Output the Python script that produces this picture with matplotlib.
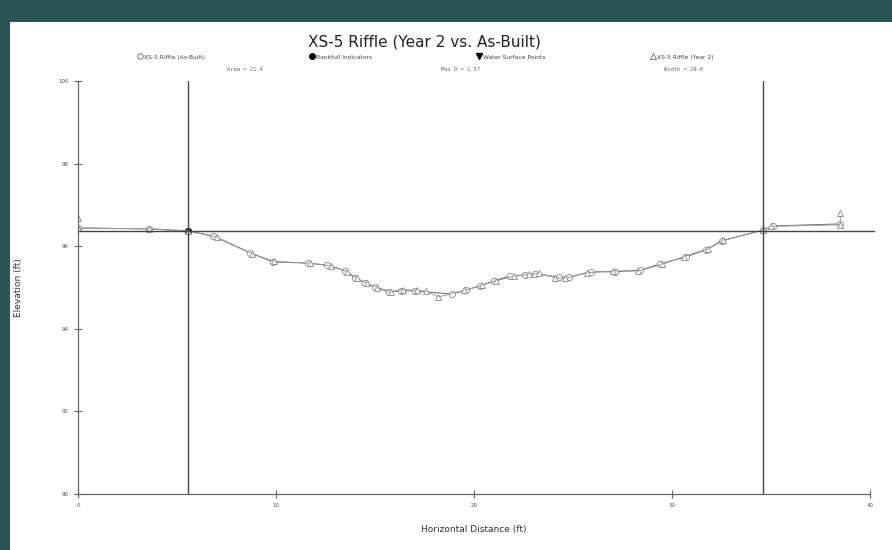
import numpy as np
import matplotlib
matplotlib.use("Agg")
import matplotlib.pyplot as plt
from matplotlib.patches import Rectangle
from matplotlib.lines import Line2D

# station (ft) and elevation (ft)
asbuilt_x = [0.0, 3.6, 5.55, 6.8, 8.7, 9.85, 11.6, 12.6, 13.5, 14.0, 14.5, 15.0, 15.7,
             16.3, 17.0, 18.9, 19.6, 20.3, 21.0, 21.8, 22.6, 23.1, 24.3, 24.8, 25.9,
             27.1, 28.4, 29.4, 30.7, 31.7, 32.5, 34.6, 35.1, 38.5]
asbuilt_y = [96.44, 96.42, 96.37, 96.25, 95.84, 95.62, 95.59, 95.54, 95.40, 95.23,
             95.11, 95.01, 94.89, 94.92, 94.92, 94.84, 94.94, 95.04, 95.16, 95.28,
             95.30, 95.33, 95.25, 95.25, 95.38, 95.38, 95.42, 95.57, 95.74, 95.91,
             96.13, 96.39, 96.49, 96.54]

year2_x = [0.0, 0.0, 3.6, 5.55, 7.0, 8.8, 9.9, 11.7, 12.8, 13.6, 14.1, 14.6, 15.1, 15.8,
           16.4, 17.1, 17.6, 18.2, 19.5, 20.4, 21.1, 22.0, 22.8, 23.3, 24.1, 24.6,
           25.7, 27.0, 28.3, 29.5, 30.6, 31.8, 32.6, 34.6, 35.0, 38.5, 38.5]
year2_y = [96.68, 96.44, 96.42, 96.37, 96.22, 95.82, 95.63, 95.59, 95.52, 95.38, 95.22,
           95.10, 95.00, 94.90, 94.95, 94.93, 94.91, 94.77, 94.93, 95.05, 95.16,
           95.27, 95.32, 95.34, 95.24, 95.22, 95.36, 95.40, 95.40, 95.56, 95.75,
           95.93, 96.14, 96.39, 96.48, 96.52, 96.81]

bankfull_x = [5.55]
bankfull_y = [96.37]
water_x, water_y = [], []

bkf_elev = 96.38
bkf_left, bkf_right = 5.55, 34.6
stats = ["Area = 21.4", "Max D = 1.57", "Width = 29.0"]
legend_labels = ["XS-5 Riffle (As-Built)", "Bankfull Indicators",
                 "Water Surface Points", "XS-5 Riffle (Year 2)"]

fig = plt.figure(figsize=(8.92, 5.5), dpi=100)
fig.patch.set_facecolor("#2c5457")
fig.add_artist(Rectangle((10 / 892, 0), 1, 1 - 22 / 550, transform=fig.transFigure,
                         facecolor="white", edgecolor="none", zorder=0))

ax = fig.add_axes([78 / 892, 1 - 494 / 550, 792 / 892, 413 / 550])
ax.set_facecolor("none")
grey = "#666666"

ax.plot(asbuilt_x, asbuilt_y, color=grey, lw=0.7, marker="o", ms=4.5,
        mfc="white", mec="#888888", mew=0.6)
ax.plot(bankfull_x, bankfull_y, ls="none", marker="o", ms=4, color="black")
ax.plot(water_x, water_y, ls="none", marker="v", ms=4, color="black")
ax.plot(year2_x, year2_y, color="#999999", lw=0.7, marker="^", ms=5,
        mfc="white", mec="#888888", mew=0.6)

ax.axhline(bkf_elev, xmin=0, xmax=40.2 / 40, color="#444444", lw=1, clip_on=False)
ax.axvline(bkf_left, color="#444444", lw=1)
ax.axvline(bkf_right, color="#444444", lw=1)

ax.set_xlim(0, 40)
ax.set_ylim(90, 100)
ax.set_xticks([0, 10, 20, 30, 40])
ax.set_yticks([90, 92, 94, 96, 98, 100])
for s in ["top", "right"]:
    ax.spines[s].set_visible(False)
for s in ["left", "bottom"]:
    ax.spines[s].set_color("#666666")
    ax.spines[s].set_linewidth(0.9)
ax.tick_params(direction="inout", length=6, width=0.8, color="#666666",
               labelsize=4, labelcolor="#555555")

ax.set_xlabel("Horizontal Distance (ft)", fontsize=6.5, color="#333333", labelpad=12)
ax.set_ylabel("Elevation (ft)", fontsize=6.5, color="#333333")
ax.yaxis.set_label_coords(-0.07, 0.5)

fig.text(0.476, 1 - 42 / 550, "XS-5 Riffle (Year 2 vs. As-Built)",
         ha="center", va="center", fontsize=11, color="#222222")

handles = [
    Line2D([], [], ls="none", marker="o", ms=4, mfc="white", mec="#666666", mew=0.6),
    Line2D([], [], ls="none", marker="o", ms=4, color="black"),
    Line2D([], [], ls="none", marker="v", ms=4, color="black"),
    Line2D([], [], ls="none", marker="^", ms=4.5, mfc="white", mec="#666666", mew=0.6),
]
fig.legend(handles, legend_labels, loc="center", bbox_to_anchor=(0.477, 1 - 57 / 550),
           ncol=4, frameon=False, fontsize=4.3, columnspacing=17.5, handlelength=0.8,
           handletextpad=0.3, labelcolor="#444444")
for xs, txt in zip([0.275, 0.516, 0.766], stats):
    fig.text(xs, 1 - 70 / 550, txt, ha="center", va="center", fontsize=4,
             color="#666666", family="monospace")

fig.savefig("out.png", dpi=100, facecolor=fig.get_facecolor())
